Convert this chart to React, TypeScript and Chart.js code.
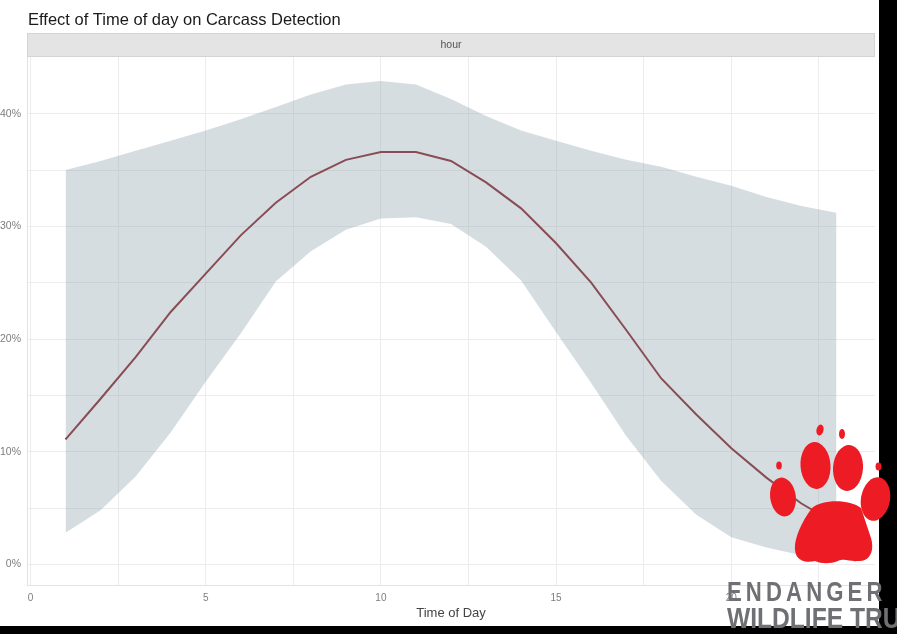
import React, { useEffect, useRef } from "react";
import { Chart, registerables } from "chart.js";

Chart.register(...registerables);

// ---- data ----
const hours = [1, 2, 3, 4, 5, 6, 7, 8, 9, 10, 11, 12, 13, 14, 15, 16, 17, 18, 19, 20, 21, 22, 23];
const fitPct = [11.1, 14.7, 18.4, 22.4, 25.8, 29.2, 32.1, 34.4, 35.9, 36.6, 36.6, 35.8, 33.9, 31.6, 28.5, 25.0, 20.8, 16.5, 13.3, 10.3, 7.7, 5.4, 3.6];
const upperPct = [35.0, 35.8, 36.7, 37.6, 38.5, 39.5, 40.6, 41.7, 42.6, 42.9, 42.6, 41.3, 39.8, 38.5, 37.6, 36.7, 35.9, 35.3, 34.4, 33.6, 32.6, 31.8, 31.2];
const lowerPct = [2.8, 4.8, 7.8, 11.7, 16.2, 20.5, 25.1, 27.8, 29.7, 30.7, 30.8, 30.2, 28.2, 25.2, 20.6, 16.1, 11.4, 7.4, 4.4, 2.4, 1.5, 0.8, 0.3];

const xGridValues = [0, 2.5, 5, 7.5, 10, 12.5, 15, 17.5, 20, 22.5];
const xLabelValues = [0, 5, 10, 15, 20];
const yGridValues = [0, 5, 10, 15, 20, 25, 30, 35, 40];
const yLabelValues = [0, 10, 20, 30, 40];

const titleText = "Effect of Time of day on Carcass Detection";
const stripLabel = "hour";
const xAxisTitle = "Time of Day";
const logoLine1 = "ENDANGERED";
const logoLine2 = "WILDLIFE TRUST";

const FONT = "'Liberation Sans', Arial, Helvetica, sans-serif";

const decorPlugin = {
  id: "decor",
  beforeDraw(chart: any) {
    const { ctx, chartArea } = chart;
    ctx.save();
    ctx.fillStyle = "#ffffff";
    ctx.fillRect(0, 0, chart.width, chart.height);
    // facet strip
    const stripH = 24;
    ctx.fillStyle = "#e4e4e4";
    ctx.fillRect(chartArea.left, chartArea.top - stripH, chartArea.right - chartArea.left, stripH);
    ctx.strokeStyle = "#d4d4d4";
    ctx.lineWidth = 1;
    ctx.strokeRect(chartArea.left + 0.5, chartArea.top - stripH + 0.5, chartArea.right - chartArea.left - 1, stripH - 1);
    ctx.fillStyle = "#555555";
    ctx.font = `10.5px ${FONT}`;
    ctx.textAlign = "center";
    ctx.textBaseline = "middle";
    ctx.fillText(stripLabel, (chartArea.left + chartArea.right) / 2, chartArea.top - stripH / 2);
    // title
    ctx.fillStyle = "#1a1a1a";
    ctx.font = `16.5px ${FONT}`;
    ctx.textAlign = "left";
    ctx.textBaseline = "alphabetic";
    ctx.fillText(titleText, chartArea.left + 1, 25);
    ctx.restore();
  },
};

export default function App() {
  const ref = useRef<HTMLCanvasElement>(null);

  useEffect(() => {
    const toPts = (vals: number[]) => hours.map((h, i) => ({ x: h, y: vals[i] }));
    const chart = new Chart(ref.current!, {
      type: "line",
      data: {
        datasets: [
          {
            label: "upper",
            data: toPts(upperPct),
            borderColor: "rgba(0,0,0,0)",
            borderWidth: 0,
            pointRadius: 0,
            fill: "+1",
            backgroundColor: "rgba(152,170,180,0.4)",
            tension: 0,
          },
          {
            label: "lower",
            data: toPts(lowerPct),
            borderColor: "rgba(0,0,0,0)",
            borderWidth: 0,
            pointRadius: 0,
            fill: false,
            tension: 0,
          },
          {
            label: "fit",
            data: toPts(fitPct),
            borderColor: "#7e1015",
            borderWidth: 2,
            pointRadius: 0,
            fill: false,
            tension: 0,
          },
        ],
      },
      options: {
        animation: false,
        responsive: false,
        devicePixelRatio: 1,
        events: [],
        layout: { padding: { top: 57, right: 4, bottom: 0, left: 0 } },
        plugins: {
          legend: { display: false },
          tooltip: { enabled: false },
          title: { display: false },
        },
        scales: {
          x: {
            type: "linear",
            min: -0.1,
            max: 24.1,
            afterBuildTicks: (axis: any) => {
              axis.ticks = xGridValues.map((v) => ({ value: v }));
            },
            afterFit: (axis: any) => {
              axis.height = 41;
            },
            ticks: {
              autoSkip: false,
              maxRotation: 0,
              padding: 7,
              color: "#7d7d7d",
              font: { family: FONT, size: 10 },
              callback: (v: any) => (xLabelValues.includes(Number(v)) ? String(v) : ""),
            },
            grid: { color: "#ececec", lineWidth: 1, drawTicks: false },
            border: { display: true, color: "#e2e2e2", width: 1 },
            title: {
              display: true,
              text: xAxisTitle,
              color: "#444444",
              font: { family: FONT, size: 13 },
              padding: { top: 0, bottom: 5 },
            },
          },
          y: {
            type: "linear",
            min: -1.83,
            max: 45.03,
            afterBuildTicks: (axis: any) => {
              axis.ticks = yGridValues.map((v) => ({ value: v }));
            },
            afterFit: (axis: any) => {
              axis.width = 27;
            },
            ticks: {
              autoSkip: false,
              padding: 6,
              color: "#7d7d7d",
              font: { family: FONT, size: 10.5 },
              callback: (v: any) => (yLabelValues.includes(Number(v)) ? `${v}%` : ""),
            },
            grid: { color: "#ececec", lineWidth: 1, drawTicks: false },
            border: { display: true, color: "#e2e2e2", width: 1 },
          },
        },
      },
      plugins: [decorPlugin],
    } as any);
    return () => chart.destroy();
  }, []);

  const red = "#ed1c24";
  const grey = "#6f7073";

  return (
    <div
      style={{
        position: "absolute",
        left: 0,
        top: 0,
        width: 897,
        height: 634,
        background: "#000",
        overflow: "hidden",
      }}
    >
      <div style={{ position: "absolute", left: 0, top: 0, width: 879, height: 626, background: "#fff" }}>
        <canvas ref={ref} width={879} height={626} style={{ display: "block", width: 879, height: 626 }} />
      </div>
      <svg
        width={897}
        height={634}
        style={{ position: "absolute", left: 0, top: 0, pointerEvents: "none" }}
      >
        <ellipse cx={779} cy={465.5} rx={2.8} ry={4} fill={red} />
        <ellipse cx={783} cy={497} rx={12.8} ry={19.5} fill={red} transform="rotate(-8 783 497)" />
        <ellipse cx={820} cy={430} rx={3.5} ry={5.5} fill={red} transform="rotate(15 820 430)" />
        <ellipse cx={815.5} cy={465.5} rx={15} ry={23.5} fill={red} transform="rotate(-4 815.5 465.5)" />
        <ellipse cx={842} cy={434} rx={3} ry={5} fill={red} />
        <ellipse cx={848} cy={468} rx={15} ry={23} fill={red} transform="rotate(4 848 468)" />
        <ellipse cx={878.5} cy={466.5} rx={3} ry={4} fill={red} />
        <ellipse cx={875.5} cy={499} rx={14.5} ry={22} fill={red} transform="rotate(10 875.5 499)" />
        <path
          d="M 812 508 C 822 499, 850 499, 861 508 L 871 538 C 875 552, 869 562, 858 561 C 850 562, 845 558, 838 561 C 830 564, 822 564, 815 561 C 808 563, 796 562, 795 550 C 794 540, 800 524, 812 508 Z"
          fill={red}
        />
      </svg>
      <div
        style={{
          position: "absolute",
          left: 727,
          top: 578.5,
          width: 157,
          height: 28,
          overflow: "hidden",
        }}
      >
        <div
          style={{
            font: `700 27px ${FONT}`,
            lineHeight: "27px",
            letterSpacing: "5px",
            color: grey,
            whiteSpace: "nowrap",
            transform: "scaleX(0.82)",
            transformOrigin: "0 0",
          }}
        >
          {logoLine1}
        </div>
      </div>
      <div
        style={{
          position: "absolute",
          left: 727,
          top: 603,
          font: `700 30px ${FONT}`,
          lineHeight: "30px",
          letterSpacing: "0px",
          color: grey,
          whiteSpace: "nowrap",
          transform: "scaleX(0.82)",
          transformOrigin: "0 0",
        }}
      >
        {logoLine2}
      </div>
    </div>
  );
}
